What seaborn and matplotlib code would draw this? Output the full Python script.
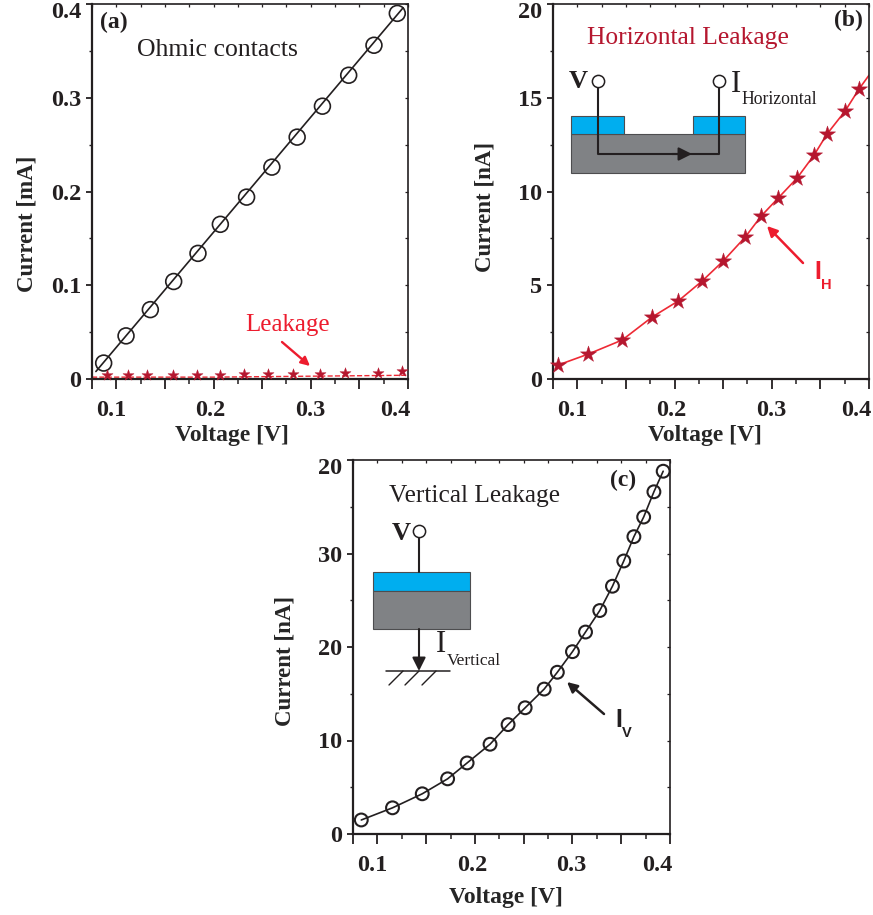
import matplotlib
matplotlib.use("Agg")
import matplotlib.pyplot as plt
from matplotlib.patches import Rectangle
from matplotlib.ticker import MultipleLocator
from matplotlib.transforms import ScaledTranslation
import seaborn as sns
import pandas as pd

W, H = 873, 915

# --- dati ---
ohmic_v = [0.087, 0.110, 0.135, 0.159, 0.184, 0.207, 0.234, 0.260, 0.286, 0.312, 0.339, 0.365, 0.389]
ohmic_i = [0.017, 0.046, 0.074, 0.104, 0.134, 0.165, 0.194, 0.226, 0.258, 0.291, 0.324, 0.356, 0.390]
ohmic_fit_v = [0.079, 0.395]
ohmic_fit_i = [0.008, 0.396]

leak_v = [0.090, 0.1125, 0.132, 0.158, 0.183, 0.207, 0.231, 0.256, 0.282, 0.310, 0.335, 0.369, 0.394]
leak_i = [0.004, 0.004, 0.004, 0.004, 0.004, 0.004, 0.005, 0.005, 0.005, 0.005, 0.006, 0.006, 0.009]
leak_fit_v = [0.075, 0.2, 0.4]
leak_fit_i = [0.002, 0.002, 0.004]

horiz_v = [0.0805, 0.1113, 0.1462, 0.1771, 0.2038, 0.2285, 0.25, 0.2727, 0.2891, 0.3066, 0.3261, 0.3436, 0.3569, 0.3754, 0.3898, 0.4]
horiz_i = [0.75, 1.33, 2.08, 3.31, 4.16, 5.23, 6.29, 7.57, 8.69, 9.65, 10.72, 11.95, 13.07, 14.29, 15.47, 16.2]
horiz_marked = 15

vert_v = [0.0835, 0.1155, 0.146, 0.172, 0.192, 0.2155, 0.234, 0.2515, 0.271, 0.2845, 0.300, 0.3134, 0.328, 0.341, 0.3526, 0.363, 0.373, 0.3835, 0.393]
vert_i = [1.5, 2.8, 4.3, 5.9, 7.6, 9.6, 11.7, 13.5, 15.5, 17.3, 19.5, 21.6, 23.9, 26.5, 29.2, 31.8, 33.9, 36.6, 38.8]

x_ticks = [0.1, 0.15, 0.2, 0.25, 0.3, 0.35, 0.4]
x_labels = ["0.1", "", "0.2", "", "0.3", "", "0.4"]
x_shift = [-5, 0, -3, 0, -1, 0, -13]
a_yticks = [0, 0.1, 0.2, 0.3, 0.4]
a_ylabels = ["0", "0.1", "0.2", "0.3", "0.4"]
b_yticks = [0, 5, 10, 15, 20]
b_ylabels = ["0", "5", "10", "15", "20"]
c_yticks = [0, 10, 20, 30, 40]
c_ylabels = ["0", "10", "20", "30", "20"]

RED = "#b5172f"
LINE_RED = "#ee2a35"
BRIGHT = "#ed1c2e"
DARK = "#231f20"
BLUE = "#00aeef"
GREY = "#808285"

sns.set_theme(style="ticks")
plt.rcParams["font.family"] = ["Liberation Serif", "DejaVu Serif"]
plt.rcParams["text.color"] = DARK


def style_axes(ax, box_px, xlim, ylim, yticks, ylabels, yminor, ylabel, xlabel_pos, ylabel_pos):
    left, right, top, bottom = box_px
    ax.set_xlim(*xlim)
    ax.set_ylim(*ylim)
    ax.set_xticks([xlim[0]] + x_ticks)
    ax.set_xticklabels([""] + x_labels, fontweight="bold", fontsize=17.5)
    ax.set_yticks(yticks)
    ax.set_yticklabels(ylabels, fontweight="bold", fontsize=17.5)
    ax.xaxis.set_minor_locator(MultipleLocator(0.025))
    ax.yaxis.set_minor_locator(MultipleLocator(yminor))
    ax.set_xlabel("Voltage [V]", fontweight="bold", fontsize=17, va="center")
    ax.set_ylabel(ylabel, fontweight="bold", fontsize=16.5, va="center")
    ax.xaxis.set_label_coords((xlabel_pos[0] - left) / (right - left), (bottom - xlabel_pos[1]) / (bottom - top))
    ax.yaxis.set_label_coords((ylabel_pos[0] - left) / (right - left), (bottom - ylabel_pos[1]) / (bottom - top))
    ax.tick_params(axis="x", which="major", direction="out", length=7, width=1.3, color=DARK, labelcolor=DARK, pad=8)
    ax.tick_params(axis="x", which="minor", direction="out", length=3.5, width=1.1, color=DARK)
    ax.tick_params(axis="y", which="major", direction="out", length=4.5, width=1.3, color=DARK, labelcolor=DARK, pad=3)
    ax.tick_params(axis="y", which="minor", direction="out", length=2, width=1.0, color=DARK)
    for name, s in ax.spines.items():
        s.set_linewidth(1.6 if name in ("left", "bottom") else 1.2)
        s.set_color(DARK)
    # etichette spostate come nell'originale
    for lab, dx in zip(ax.get_xticklabels()[1:], x_shift):
        lab.set_transform(lab.get_transform() + ScaledTranslation(dx / 100, 0, fig.dpi_scale_trans))
    top_lab = ax.get_yticklabels()[-1]
    top_lab.set_transform(top_lab.get_transform() + ScaledTranslation(0, -6 / 100, fig.dpi_scale_trans))
    # tacche interne su lato superiore e destro
    top_ax = ax.secondary_xaxis("top")
    top_ax.set_xticks(x_ticks)
    top_ax.xaxis.set_minor_locator(MultipleLocator(0.025))
    top_ax.tick_params(which="both", direction="in", length=2.5, width=0.9, labeltop=False, color=DARK)
    top_ax.spines["top"].set_visible(False)
    right_ax = ax.secondary_yaxis("right")
    right_ax.set_yticks(yticks)
    right_ax.yaxis.set_minor_locator(MultipleLocator(yminor))
    right_ax.tick_params(which="both", direction="in", length=2.5, width=0.9, labelright=False, color=DARK)
    right_ax.spines["right"].set_visible(False)


def make_axes(box_px):
    left, right, top, bottom = box_px
    return fig.add_axes([left / W, 1 - bottom / H, (right - left) / W, (bottom - top) / H])


fig = plt.figure(figsize=(W / 100, H / 100), dpi=100)

# --- (a) contatti ohmici ---
box_a = (92, 408, 4, 379)
ax_a = make_axes(box_a)
sns.lineplot(x=ohmic_fit_v, y=ohmic_fit_i, ax=ax_a, color=DARK, linewidth=1.2)
sns.lineplot(x=leak_fit_v, y=leak_fit_i, ax=ax_a, color=LINE_RED, linewidth=1.0, linestyle="--")
sns.scatterplot(x=ohmic_v, y=ohmic_i, ax=ax_a, marker="o", s=130, facecolor="none", edgecolor=DARK, linewidth=1.2, clip_on=False)
sns.scatterplot(x=leak_v, y=leak_i, ax=ax_a, marker="*", s=70, color=RED, edgecolor=RED, linewidth=0.3, clip_on=False, zorder=4)
style_axes(ax_a, box_a, (0.075, 0.4), (0, 0.4), a_yticks, a_ylabels, 0.05, "Current [mA]", (232, 435), (27, 224))

# --- (b) leakage orizzontale ---
box_b = (553, 869, 4, 379)
ax_b = make_axes(box_b)
sns.lineplot(x=horiz_v, y=horiz_i, ax=ax_b, sort=False, color=LINE_RED, linewidth=1.2)
sns.scatterplot(x=horiz_v[:horiz_marked], y=horiz_i[:horiz_marked], ax=ax_b, marker="*", s=150, color=RED, edgecolor=RED, linewidth=0.3, clip_on=False, zorder=4)
style_axes(ax_b, box_b, (0.075, 0.4), (0, 20), b_yticks, b_ylabels, 2.5, "Current [nA]", (705, 435), (485, 207))

# --- (c) leakage verticale ---
box_c = (353, 670, 460, 834)
ax_c = make_axes(box_c)
sns.lineplot(x=vert_v, y=vert_i, ax=ax_c, sort=False, color=DARK, linewidth=1.2)
sns.scatterplot(x=vert_v, y=vert_i, ax=ax_c, marker="o", s=85, facecolor="none", edgecolor=DARK, linewidth=1.5, clip_on=False, zorder=4)
style_axes(ax_c, box_c, (0.075, 0.4), (0, 40), c_yticks, c_ylabels, 5, "Current [nA]", (506, 897), (285, 661))

# --- livello in pixel per scritte e schemi ---
ov = fig.add_axes([0, 0, 1, 1], zorder=10)
ov.set_xlim(0, W)
ov.set_ylim(H, 0)
ov.axis("off")
ov.patch.set_alpha(0)


def label(x, y, s, size, color=DARK, weight="normal", ha="left", family=None):
    ov.text(x, y, s, fontsize=size, color=color, fontweight=weight, ha=ha, va="center", family=family)


def arrow(x0, y0, x1, y1, color=DARK, lw=1.6, head=12):
    ov.annotate("", xy=(x1, y1), xytext=(x0, y0),
                arrowprops=dict(arrowstyle="-|>", color=color, lw=lw, mutation_scale=head, shrinkA=0, shrinkB=0))


def box(x0, y0, x1, y1, color):
    ov.add_patch(Rectangle((x0, y0), x1 - x0, y1 - y0, facecolor=color, edgecolor="#4d4d4f", linewidth=0.8))


def terminal(x, y):
    ov.plot([x], [y], marker="o", ms=8.8, mfc="white", mec=DARK, mew=1.1, zorder=6)


label(100, 22, "(a)", 17, weight="bold")
label(137, 50, "Ohmic contacts", 18.5)
label(245, 325, "Leakage", 18, color=BRIGHT)
arrow(282, 342, 310, 366, color=BRIGHT, lw=1.7, head=13)

label(863, 20, "(b)", 17, weight="bold", ha="right")
label(587, 38, "Horizontal Leakage", 18.4, color=RED)
label(569, 81, "V", 19, weight="bold")
box(571, 134, 745, 173, GREY)
box(571, 116, 624, 134, BLUE)
box(693, 116, 745, 134, BLUE)
ov.plot([598, 598, 719, 719], [81, 154, 154, 81], color=DARK, lw=1.5, zorder=5)
arrow(672, 154, 692, 154, lw=1.5, head=20)
terminal(598, 81)
terminal(719, 81)
label(731, 85, "I", 22)
label(741, 99, "Horizontal", 12.8)
arrow(803, 263, 767, 226, color=BRIGHT, lw=1.8, head=15)
label(814, 272, "I", 18, color=BRIGHT, weight="bold", family="Liberation Sans")
label(821, 285, "H", 10.5, color=BRIGHT, weight="bold", family="Liberation Sans")

label(610, 480, "(c)", 17, weight="bold")
label(389, 496, "Vertical Leakage", 18.3)
label(392, 533, "V", 19, weight="bold")
ov.plot([419, 419], [531, 572], color=DARK, lw=1.5)
box(373, 572, 470, 591, BLUE)
box(373, 591, 470, 629, GREY)
arrow(419, 629, 419, 671, lw=1.5, head=20)
terminal(419, 531)
label(436, 645, "I", 22)
label(447, 661, "Vertical", 12.5)
ov.plot([386, 450], [671, 671], color=DARK, lw=1.1)
for hx in (403, 419, 436):
    ov.plot([hx, hx - 14], [671, 685], color=DARK, lw=1.0)
arrow(604, 714, 567, 682, lw=1.8, head=15)
label(615, 720, "I", 18, weight="bold", family="Liberation Sans")
label(622, 733, "V", 10.5, weight="bold", family="Liberation Sans")

fig.savefig("out.png", dpi=100)
plt.close(fig)
